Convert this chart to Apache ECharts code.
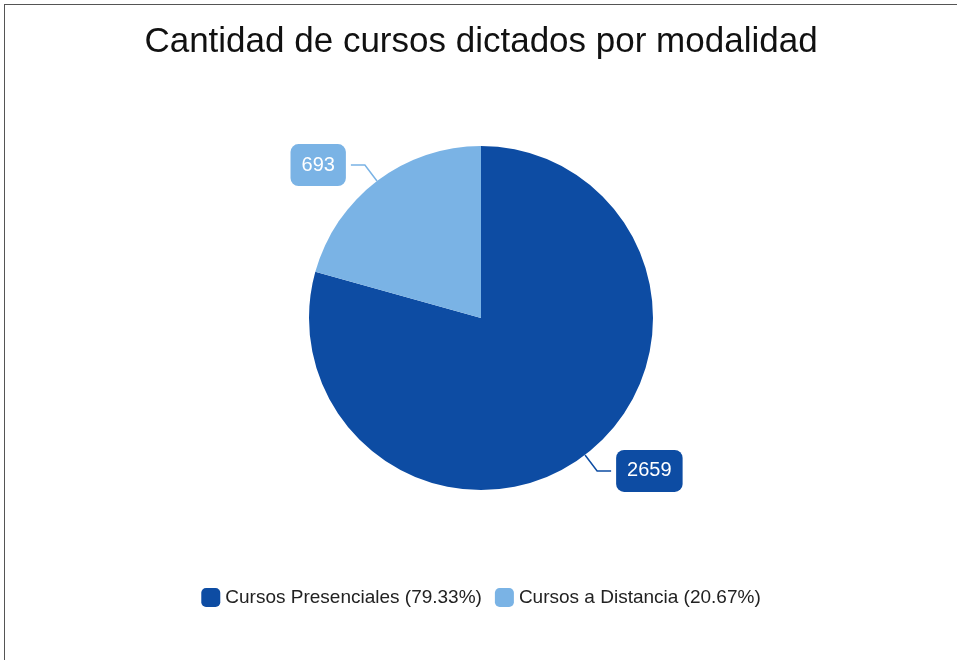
<!DOCTYPE html>
<html>
<head>
<meta charset="utf-8">
<script src="https://cdn.jsdelivr.net/npm/echarts@6/dist/echarts.min.js"></script>
<style>
  html, body { margin: 0; padding: 0; background: #fff; overflow: hidden; }
  #box { position: absolute; left: 4px; top: 4px; width: 952px; height: 660px; border: 1px solid #555; }
  #chart { width: 952px; height: 660px; }
</style>
</head>
<body>
<div id="box"><div id="chart"></div></div>
<script>
const categories = ['Cursos Presenciales', 'Cursos a Distancia']
const values = [2659, 693]
const colors = ['#0d4ca3', '#7ab3e5']

const total = values.reduce((a, b) => a + b, 0)
const pct = {}
categories.forEach((c, i) => { pct[c] = (values[i] / total * 100).toFixed(2) })

const chart = echarts.init(document.getElementById('chart'))
chart.setOption({
  animation: false,
  textStyle: { fontFamily: 'Liberation Sans, Arial, sans-serif' },
  title: {
    text: 'Cantidad de cursos dictados por modalidad',
    left: 'center',
    top: 15,
    textStyle: { fontSize: 35, fontWeight: 'normal', color: '#111' }
  },
  legend: {
    bottom: 53,
    left: 'center',
    itemWidth: 19,
    itemHeight: 19,
    itemGap: 13,
    icon: 'roundRect',
    textStyle: { fontSize: 19, color: '#222' },
    formatter: name => name + ' (' + pct[name] + '%)'
  },
  series: [{
    type: 'pie',
    center: [476, 313],
    radius: 172,
    startAngle: 90,
    clockwise: true,
    data: categories.map((c, i) => ({
      name: c,
      value: values[i],
      itemStyle: { color: colors[i] },
      label: { backgroundColor: colors[i] }
    })),
    label: {
      show: true,
      position: 'outside',
      formatter: '{c}',
      color: '#fff',
      fontSize: 20,
      padding: [11, 11],
      borderRadius: 8
    },
    labelLine: {
      show: true,
      length: 20,
      length2: 14,
      lineStyle: { width: 1.5 }
    }
  }]
})
</script>
</body>
</html>
